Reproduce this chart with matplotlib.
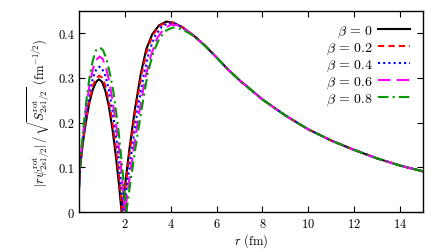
import numpy as np
import matplotlib
matplotlib.use("Agg")
import matplotlib.pyplot as plt

plt.rcParams["font.family"] = "serif"
plt.rcParams["font.serif"] = ["cmr10", "DejaVu Serif"]
plt.rcParams["mathtext.fontset"] = "cm"
plt.rcParams["axes.formatter.use_mathtext"] = True
plt.rcParams["axes.unicode_minus"] = False

betas = ["0", "0.2", "0.4", "0.6", "0.8"]

# inner part of each curve (r in fm)
r_b00 = [0, 0.05, 0.15, 0.25, 0.35, 0.46, 0.61, 0.75, 0.87, 1.0, 1.15, 1.3, 1.45, 1.6, 1.75, 1.86,
         2.0, 2.2, 2.43, 2.7, 2.94, 3.2, 3.5, 3.81, 4.1, 4.5, 5.0]
v_b00 = [0.05, 0.10, 0.145, 0.183, 0.215, 0.245, 0.275, 0.291, 0.297, 0.292, 0.272, 0.238, 0.19, 0.13, 0.06, 0.0,
         0.055, 0.14, 0.226, 0.31, 0.365, 0.398, 0.418, 0.426, 0.424, 0.414, 0.395]

r_b02 = [0, 0.05, 0.15, 0.25, 0.35, 0.46, 0.61, 0.75, 0.88, 1.0, 1.15, 1.3, 1.45, 1.6, 1.75, 1.89,
         2.03, 2.2, 2.46, 2.73, 2.97, 3.2, 3.5, 3.85, 4.1, 4.5, 5.0]
v_b02 = [0.05, 0.10, 0.147, 0.186, 0.219, 0.25, 0.282, 0.299, 0.305, 0.301, 0.283, 0.25, 0.205, 0.148, 0.08, 0.0,
         0.055, 0.128, 0.226, 0.308, 0.362, 0.394, 0.416, 0.425, 0.423, 0.414, 0.395]

r_b04 = [0, 0.05, 0.15, 0.25, 0.35, 0.46, 0.61, 0.75, 0.89, 1.0, 1.15, 1.3, 1.45, 1.6, 1.75, 1.95,
         2.1, 2.3, 2.55, 2.82, 3.05, 3.3, 3.6, 3.9, 4.2, 4.5, 5.0]
v_b04 = [0.05, 0.102, 0.153, 0.195, 0.23, 0.265, 0.3, 0.318, 0.325, 0.322, 0.305, 0.275, 0.232, 0.178, 0.115, 0.0,
         0.06, 0.136, 0.226, 0.305, 0.357, 0.392, 0.414, 0.423, 0.421, 0.413, 0.395]

r_b06 = [0, 0.05, 0.15, 0.25, 0.35, 0.46, 0.61, 0.75, 0.9, 1.03, 1.18, 1.33, 1.48, 1.62, 1.8, 2.01,
         2.15, 2.38, 2.64, 2.9, 3.15, 3.4, 3.7, 4.0, 4.3, 4.6, 5.0]
v_b06 = [0.05, 0.104, 0.159, 0.205, 0.245, 0.282, 0.32, 0.34, 0.348, 0.343, 0.323, 0.29, 0.245, 0.195, 0.12, 0.0,
         0.055, 0.14, 0.226, 0.302, 0.352, 0.388, 0.41, 0.419, 0.418, 0.41, 0.395]

r_b08 = [0, 0.05, 0.15, 0.25, 0.35, 0.46, 0.61, 0.75, 0.92, 1.05, 1.2, 1.35, 1.5, 1.62, 1.72, 1.85, 1.96, 2.07,
         2.2, 2.45, 2.72, 3.0, 3.23, 3.5, 3.8, 4.1, 4.5, 5.0]
v_b08 = [0.05, 0.105, 0.165, 0.215, 0.26, 0.3, 0.34, 0.362, 0.368, 0.362, 0.343, 0.31, 0.27, 0.225, 0.185, 0.12, 0.06, 0.0,
         0.05, 0.138, 0.226, 0.31, 0.355, 0.388, 0.406, 0.413, 0.409, 0.394]

# common tail, all curves coincide here
r_tail = [5.5, 6.0, 6.5, 7.0, 8.0, 9.0, 10.0, 11.0, 12.0, 13.0, 14.0, 15.0]
v_tail = [0.372, 0.346, 0.319, 0.295, 0.252, 0.216, 0.185, 0.160, 0.139, 0.120, 0.104, 0.091]

curves = [(r_b00, v_b00), (r_b02, v_b02), (r_b04, v_b04), (r_b06, v_b06), (r_b08, v_b08)]
colors = ["black", "#ff0000", "#0000ff", "#ff00ff", "#009900"]
styles = ["-", (0, (3, 2)), (0, (1, 1.5)), (0, (6, 3)), (0, (5, 2, 1, 2))]

fig = plt.figure(figsize=(4.36, 2.53), dpi=100)
ax = fig.add_axes([0.181, 0.158, 0.789, 0.795])

for (r, v), b, c, ls in zip(curves, betas, colors, styles):
    ax.plot(r + r_tail, v + v_tail, color=c, ls=ls, lw=1.5, label=r"$\beta\,=\,%s$" % b)

ax.set_xlim(0, 15)
ax.set_ylim(0, 0.45)
ax.set_xticks([2, 4, 6, 8, 10, 12, 14])
ax.set_yticks([0, 0.1, 0.2, 0.3, 0.4])
ax.set_yticklabels(["0", "0.1", "0.2", "0.3", "0.4"])
ax.tick_params(direction="in", top=True, right=True, labelsize=9, length=4, width=0.8)
for s in ax.spines.values():
    s.set_linewidth(1.0)

ax.set_xlabel(r"$r$ (fm)", fontsize=9, labelpad=1)
ax.set_ylabel(r"$|r\psi^{\rm rot}_{2s1/2}|\,/\,\sqrt{S^{\rm rot}_{2s1/2}}$ (fm$^{-1/2}$)", fontsize=9, labelpad=4)

ax.legend(loc="upper right", frameon=False, markerfirst=False, fontsize=10, handlelength=2.3,
          labelspacing=0.12, borderaxespad=0.5, handletextpad=0.4)

fig.savefig("out.png", dpi=100)
